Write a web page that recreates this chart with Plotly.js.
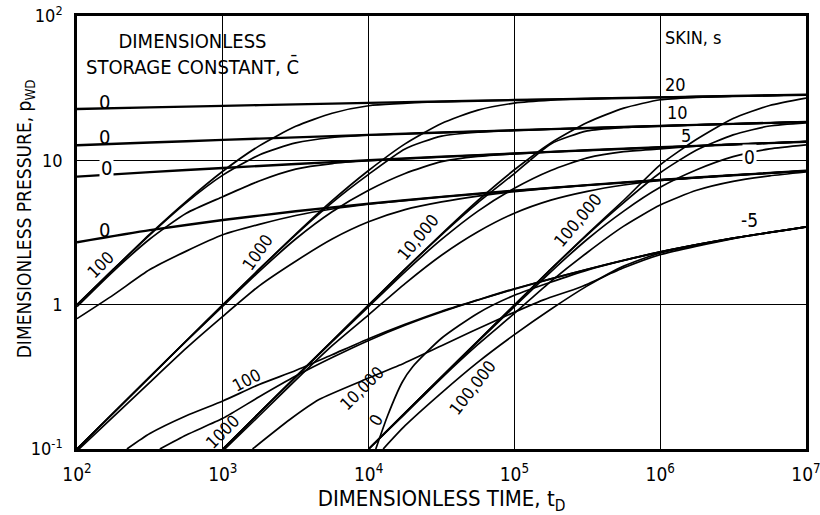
<!DOCTYPE html>
<html>
<head>
<meta charset="utf-8">
<script src="https://cdn.plot.ly/plotly-3.0.1.min.js"></script>
<style>html,body{margin:0;padding:0;background:#fff;}#chart{width:820px;height:515px;}</style>
</head>
<body>
<div id="chart"></div>
<script>
// ---------- DATA ----------
// Line-source curves, dimensionless storage constant C = 0
const tLine = [1e2, 316, 1e3, 3162, 1e4, 31623, 1e5, 316228, 1e6, 3162278, 1e7];
const pC0s0  = [2.707, 3.283, 3.858, 4.434, 5.010, 5.585, 6.161, 6.736, 7.312, 7.888, 8.463];
const pC0s5  = [7.707, 8.283, 8.858, 9.434, 10.01, 10.585, 11.161, 11.736, 12.312, 12.888, 13.463];
const pC0s10 = [12.707, 13.283, 13.858, 14.434, 15.01, 15.585, 16.161, 16.736, 17.312, 17.888, 18.463];
const pC0s20 = [22.707, 23.283, 23.858, 24.434, 25.01, 25.585, 26.161, 26.736, 27.312, 27.888, 28.463];
const tC0sm5 = [11200, 13500, 17000, 20000, 31623, 56234, 1e5, 316228, 1e6, 3162278, 1e7];
const pC0sm5 = [0.10, 0.17, 0.29, 0.37, 0.585, 0.873, 1.161, 1.736, 2.312, 2.888, 3.463];

// C = 100
const t100 = [100, 178, 316, 562, 1000, 1778, 3162, 5623, 1e4, 31623, 1e5, 316228, 1e6, 3162278, 1e7];
const p100s20 = [1.0, 1.76, 3.08, 5.2, 8.4, 12.6, 17.2, 21.2, 23.9, 25.5, 26.15, 26.74, 27.31, 27.89, 28.46];
const p100s10 = [1.0, 1.76, 3.05, 5.1, 7.9, 10.9, 13.2, 14.4, 14.95, 15.58, 16.16, 16.74, 17.31, 17.89, 18.46];
const p100s5  = [0.97, 1.71, 2.85, 4.3, 5.6, 7.2, 8.7, 9.5, 9.93, 10.58, 11.16, 11.74, 12.31, 12.89, 13.46];
const p100s0  = [0.80, 1.17, 1.75, 2.35, 3.05, 3.6, 4.15, 4.6, 4.97, 5.58, 6.16, 6.74, 7.31, 7.89, 8.46];
const t100sm5 = [220, 316, 562, 1000, 1778, 3162, 5623, 1e4, 17783, 31623, 56234, 1e5, 316228, 1e6, 3162278, 1e7];
const p100sm5 = [0.10, 0.128, 0.17, 0.215, 0.28, 0.35, 0.45, 0.58, 0.73, 0.90, 1.08, 1.29, 1.76, 2.32, 2.89, 3.46];

// C = 1000
const t1000 = [100, 316, 562, 1000, 1778, 3162, 5623, 1e4, 17783, 31623, 56234, 1e5, 177828, 316228, 1e6, 3162278, 1e7];
const p1000s20 = [0.1, 0.316, 0.562, 1.0, 1.76, 3.08, 5.25, 8.5, 13.0, 18.0, 22.3, 24.9, 26.1, 26.7, 27.31, 27.89, 28.46];
const p1000s10 = [0.1, 0.316, 0.562, 0.99, 1.76, 3.05, 5.1, 8.0, 12.0, 14.7, 15.65, 16.1, 16.45, 16.74, 17.31, 17.89, 18.46];
const p1000s5  = [0.1, 0.316, 0.56, 0.975, 1.70, 2.85, 4.4, 6.2, 8.1, 9.8, 10.65, 11.1, 11.45, 11.74, 12.31, 12.89, 13.46];
const p1000s0  = [0.097, 0.29, 0.5, 0.83, 1.35, 2.0, 2.85, 3.75, 4.55, 5.15, 5.65, 6.07, 6.42, 6.72, 7.31, 7.89, 8.46];
const t1000sm5 = [370, 562, 1000, 1778, 3162, 5623, 1e4, 17783, 31623, 1e5, 316228, 1e6, 3162278, 1e7];
const p1000sm5 = [0.10, 0.125, 0.163, 0.23, 0.32, 0.43, 0.565, 0.72, 0.89, 1.28, 1.755, 2.32, 2.89, 3.46];

// C = 10,000
const t1e4 = [1000, 1778, 3162, 5623, 1e4, 17783, 31623, 56234, 1e5, 177828, 316228, 562341, 1e6, 1778279, 3162278, 1e7];
const p1e4s20 = [0.1, 0.178, 0.316, 0.562, 0.995, 1.76, 3.08, 5.27, 8.6, 13.2, 18.3, 23.0, 26.3, 27.3, 27.89, 28.46];
const p1e4s10 = [0.1, 0.178, 0.316, 0.56, 0.99, 1.76, 3.05, 5.1, 8.1, 13.0, 16.0, 16.9, 17.3, 17.6, 17.89, 18.46];
const p1e4s5  = [0.1, 0.178, 0.315, 0.555, 0.97, 1.69, 2.83, 4.45, 6.4, 8.5, 10.4, 11.5, 12.0, 12.55, 12.89, 13.46];
const p1e4s0  = [0.097, 0.17, 0.3, 0.52, 0.85, 1.4, 2.2, 3.2, 4.3, 5.3, 6.1, 6.75, 7.25, 7.58, 7.88, 8.46];
const t1e4sm5 = [1600, 2884, 4571, 1e4, 16218, 31623, 79433, 158489, 281838, 562341, 1e6, 3162278, 1e7];
const p1e4sm5 = [0.10, 0.16, 0.22, 0.31, 0.38, 0.52, 0.80, 1.08, 1.32, 1.8, 2.22, 2.87, 3.45];

// C = 100,000
const t1e5 = [1e4, 17783, 31623, 56234, 1e5, 177828, 316228, 562341, 1e6, 1778279, 3162278, 5623413, 1e7];
const p1e5s20 = [0.1, 0.178, 0.316, 0.562, 0.995, 1.76, 3.08, 5.29, 9.3, 14.0, 19.5, 24.0, 27.0];
const p1e5s10 = [0.1, 0.178, 0.316, 0.56, 0.99, 1.76, 3.05, 5.1, 8.2, 11.8, 15.0, 17.3, 18.2];
const p1e5s5  = [0.1, 0.178, 0.315, 0.555, 0.97, 1.69, 2.84, 4.45, 6.5, 8.6, 10.6, 12.0, 12.8];
const p1e5s0  = [0.1, 0.175, 0.31, 0.53, 0.87, 1.45, 2.3, 3.5, 4.9, 6.2, 7.15, 7.8, 8.3];
const t1e5sm5 = [12589, 17783, 31623, 56234, 1e5, 177828, 316228, 562341, 1e6, 3162278, 1e7];
const p1e5sm5 = [0.1, 0.145, 0.245, 0.40, 0.62, 0.93, 1.35, 1.85, 2.28, 2.88, 3.46];

// Axis ticks
const xTickVals = [1e2, 1e3, 1e4, 1e5, 1e6, 1e7];
const xTickText = ['10<sup>2</sup>', '10<sup>3</sup>', '10<sup>4</sup>', '10<sup>5</sup>', '10<sup>6</sup>', '10<sup>7</sup>'];
const yTickVals = [0.1, 1, 10, 100];
const yTickText = ['10<sup>-1</sup>', '1', '10', '10<sup>2</sup>'];

// ---------- DRAWING ----------
const FONT = 'DejaVu Sans Condensed, Liberation Sans Narrow, DejaVu Sans, sans-serif';
function curve(x, y, w) {
  return {x: x, y: y, type: 'scatter', mode: 'lines', hoverinfo: 'skip', showlegend: false,
          line: {color: '#000', width: w || 1.7, shape: 'spline', smoothing: 0.6}};
}
const traces = [
  curve(tLine, pC0s0, 2.4), curve(tLine, pC0s5, 2.4), curve(tLine, pC0s10, 2.4), curve(tLine, pC0s20, 2.4),
  curve(tC0sm5, pC0sm5, 1.7),
  curve(t100, p100s20), curve(t100, p100s10), curve(t100, p100s5), curve(t100, p100s0), curve(t100sm5, p100sm5),
  curve(t1000, p1000s20), curve(t1000, p1000s10), curve(t1000, p1000s5), curve(t1000, p1000s0), curve(t1000sm5, p1000sm5),
  curve(t1e4, p1e4s20), curve(t1e4, p1e4s10), curve(t1e4, p1e4s5), curve(t1e4, p1e4s0), curve(t1e4sm5, p1e4sm5),
  curve(t1e5, p1e5s20), curve(t1e5, p1e5s10), curve(t1e5, p1e5s5), curve(t1e5, p1e5s0), curve(t1e5sm5, p1e5sm5)
];

function lab(text, x, y, size, angle, opts) {
  return Object.assign({text: text, xref: 'paper', yref: 'paper', x: x, y: y, showarrow: false,
    font: {family: FONT, size: size, color: '#000'}, textangle: angle || 0,
    xanchor: 'center', yanchor: 'middle'}, opts || {});
}
const annotations = [
  lab('DIMENSIONLESS<br>STORAGE CONSTANT, C\u0304', 0.158, 0.913, 20, 0, {align: 'center'}),
  lab('SKIN, s', 0.804, 0.9515, 18, 0, {xanchor: 'left'}),
  lab('20', 0.804, 0.841, 18, 0, {xanchor: 'left'}),
  lab('10', 0.807, 0.776, 18, 0, {xanchor: 'left'}),
  lab('5', 0.826, 0.725, 18, 0, {xanchor: 'left'}),
  lab('0', 0.923, 0.674, 19, 0, {bgcolor: '#fff'}),
  lab('-5', 0.923, 0.529, 19),
  lab('0', 0.038, 0.801, 20),
  lab('0', 0.038, 0.721, 20),
  lab('0', 0.041, 0.649, 20, 0, {bgcolor: '#fff'}),
  lab('0', 0.038, 0.506, 20),
  lab('100', 0.032, 0.425, 17, -45),
  lab('1000', 0.248, 0.455, 17, -55),
  lab('10,000', 0.468, 0.49, 17, -50),
  lab('100,000', 0.687, 0.529, 17, -50),
  lab('100', 0.233, 0.159, 17, -28),
  lab('1000', 0.199, 0.04, 17, -45),
  lab('10,000', 0.391, 0.141, 17, -45),
  lab('0', 0.410, 0.067, 17, -60),
  lab('100,000', 0.542, 0.141, 17, -52),
  // y-axis title placed as a rotated annotation so it sits where the reference has it
  lab('DIMENSIONLESS PRESSURE, p<sub>WD</sub>', -0.071, 0.531, 19, -90)
];

const layout = {
  width: 820, height: 515,
  margin: {l: 77, r: 14, t: 16, b: 66},
  paper_bgcolor: '#fff', plot_bgcolor: '#fff',
  showlegend: false,
  font: {family: FONT, color: '#000'},
  xaxis: {
    type: 'log', range: [2, 7], tickvals: xTickVals, ticktext: xTickText,
    showgrid: true, gridcolor: '#000', gridwidth: 1.2, zeroline: false,
    showline: true, linecolor: '#000', linewidth: 2.5, mirror: true, ticks: '',
    tickfont: {family: FONT, size: 19, color: '#000'}, ticklabelstandoff: 6,
    ticklabeloverflow: 'allow',
    title: {text: 'DIMENSIONLESS TIME, t<sub>D</sub>', font: {family: FONT, size: 22, color: '#000'}, standoff: 12}
  },
  yaxis: {
    type: 'log', range: [-1, 2], tickvals: yTickVals, ticktext: yTickText,
    showgrid: true, gridcolor: '#000', gridwidth: 1.2, zeroline: false,
    showline: true, linecolor: '#000', linewidth: 2.5, mirror: true, ticks: '',
    tickfont: {family: FONT, size: 18, color: '#000'}, ticklabelstandoff: 8,
    ticklabeloverflow: 'allow'
  },
  annotations: annotations
};

Plotly.newPlot('chart', traces, layout, {displayModeBar: false});
</script>
</body>
</html>
